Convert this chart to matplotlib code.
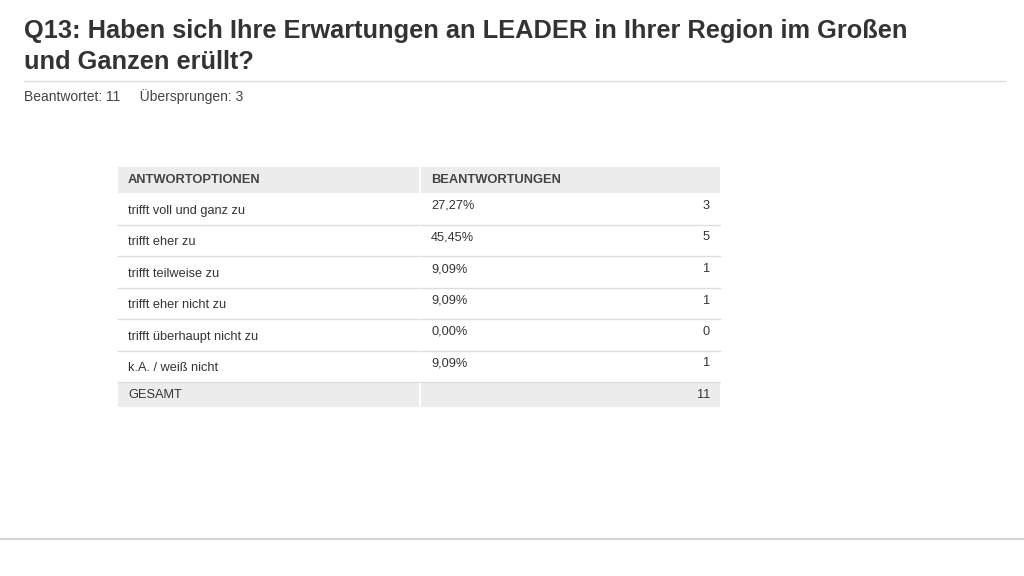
import matplotlib
matplotlib.use("Agg")
import matplotlib.pyplot as plt
from matplotlib.patches import Rectangle

title_lines = ["Q13: Haben sich Ihre Erwartungen an LEADER in Ihrer Region im Großen", "und Ganzen erüllt?"]
subtitle = "Beantwortet: 11     Übersprungen: 3"
headers = ["ANTWORTOPTIONEN", "BEANTWORTUNGEN"]
options = ["trifft voll und ganz zu", "trifft eher zu", "trifft teilweise zu",
           "trifft eher nicht zu", "trifft überhaupt nicht zu", "k.A. / weiß nicht"]
percents = ["27,27%", "45,45%", "9,09%", "9,09%", "0,00%", "9,09%"]
counts = [3, 5, 1, 1, 0, 1]
total_label = "GESAMT"
total = 11

plt.rcParams["font.family"] = "Liberation Sans"
fig = plt.figure(figsize=(10.24, 5.76), dpi=100)
ax = fig.add_axes([0, 0, 1, 1])
ax.set_xlim(0, 1024); ax.set_ylim(576, 0); ax.axis("off")

c = "#333333"
ax.text(24, 31, title_lines[0], fontsize=18.3, fontweight="bold", color=c, va="center")
ax.text(24, 62, title_lines[1], fontsize=18.3, fontweight="bold", color=c, va="center")
ax.plot([24, 1005], [81, 81], color="#dddddd", lw=1)
ax.text(24, 97, subtitle, fontsize=10, color="#444444", va="center")
ax.plot([0, 1024], [539, 539], color="#cccccc", lw=1.2)

x0, xm, x1 = 118, 420, 720
hdr_top, hdr_h, row_h = 167, 26, 31.5
ax.add_patch(Rectangle((x0, hdr_top), xm - x0 - 1, hdr_h, color="#ececec", lw=0))
ax.add_patch(Rectangle((xm + 1, hdr_top), x1 - xm - 1, hdr_h, color="#ececec", lw=0))
ax.text(128, hdr_top + hdr_h / 2, headers[0], fontsize=9.3, fontweight="bold", color="#444444", va="center")
ax.text(431, hdr_top + hdr_h / 2, headers[1], fontsize=9.3, fontweight="bold", color="#444444", va="center")

top = hdr_top + hdr_h
for i, (o, p, n) in enumerate(zip(options, percents, counts)):
    y = top + i * row_h
    ax.text(128, y + row_h / 2 + 2, o, fontsize=9.2, color=c, va="center")
    ax.text(431, y + 13, p, fontsize=9.2, color=c, va="center")
    ax.text(710, y + 13, str(n), fontsize=9.2, color=c, va="center", ha="right")
    ax.plot([x0, xm - 1], [y + row_h, y + row_h], color="#dddddd", lw=1)
    ax.plot([xm + 1, x1], [y + row_h, y + row_h], color="#dddddd", lw=1)
y = top + len(options) * row_h
ax.add_patch(Rectangle((x0, y), xm - x0 - 1, 25, color="#ececec", lw=0))
ax.add_patch(Rectangle((xm + 1, y), x1 - xm - 1, 25, color="#ececec", lw=0))
ax.text(128, y + 12.5, total_label, fontsize=9.2, color=c, va="center")
ax.text(710, y + 12.5, str(total), fontsize=9.2, color=c, va="center", ha="right")

fig.savefig("out.png", dpi=100, facecolor="white")
